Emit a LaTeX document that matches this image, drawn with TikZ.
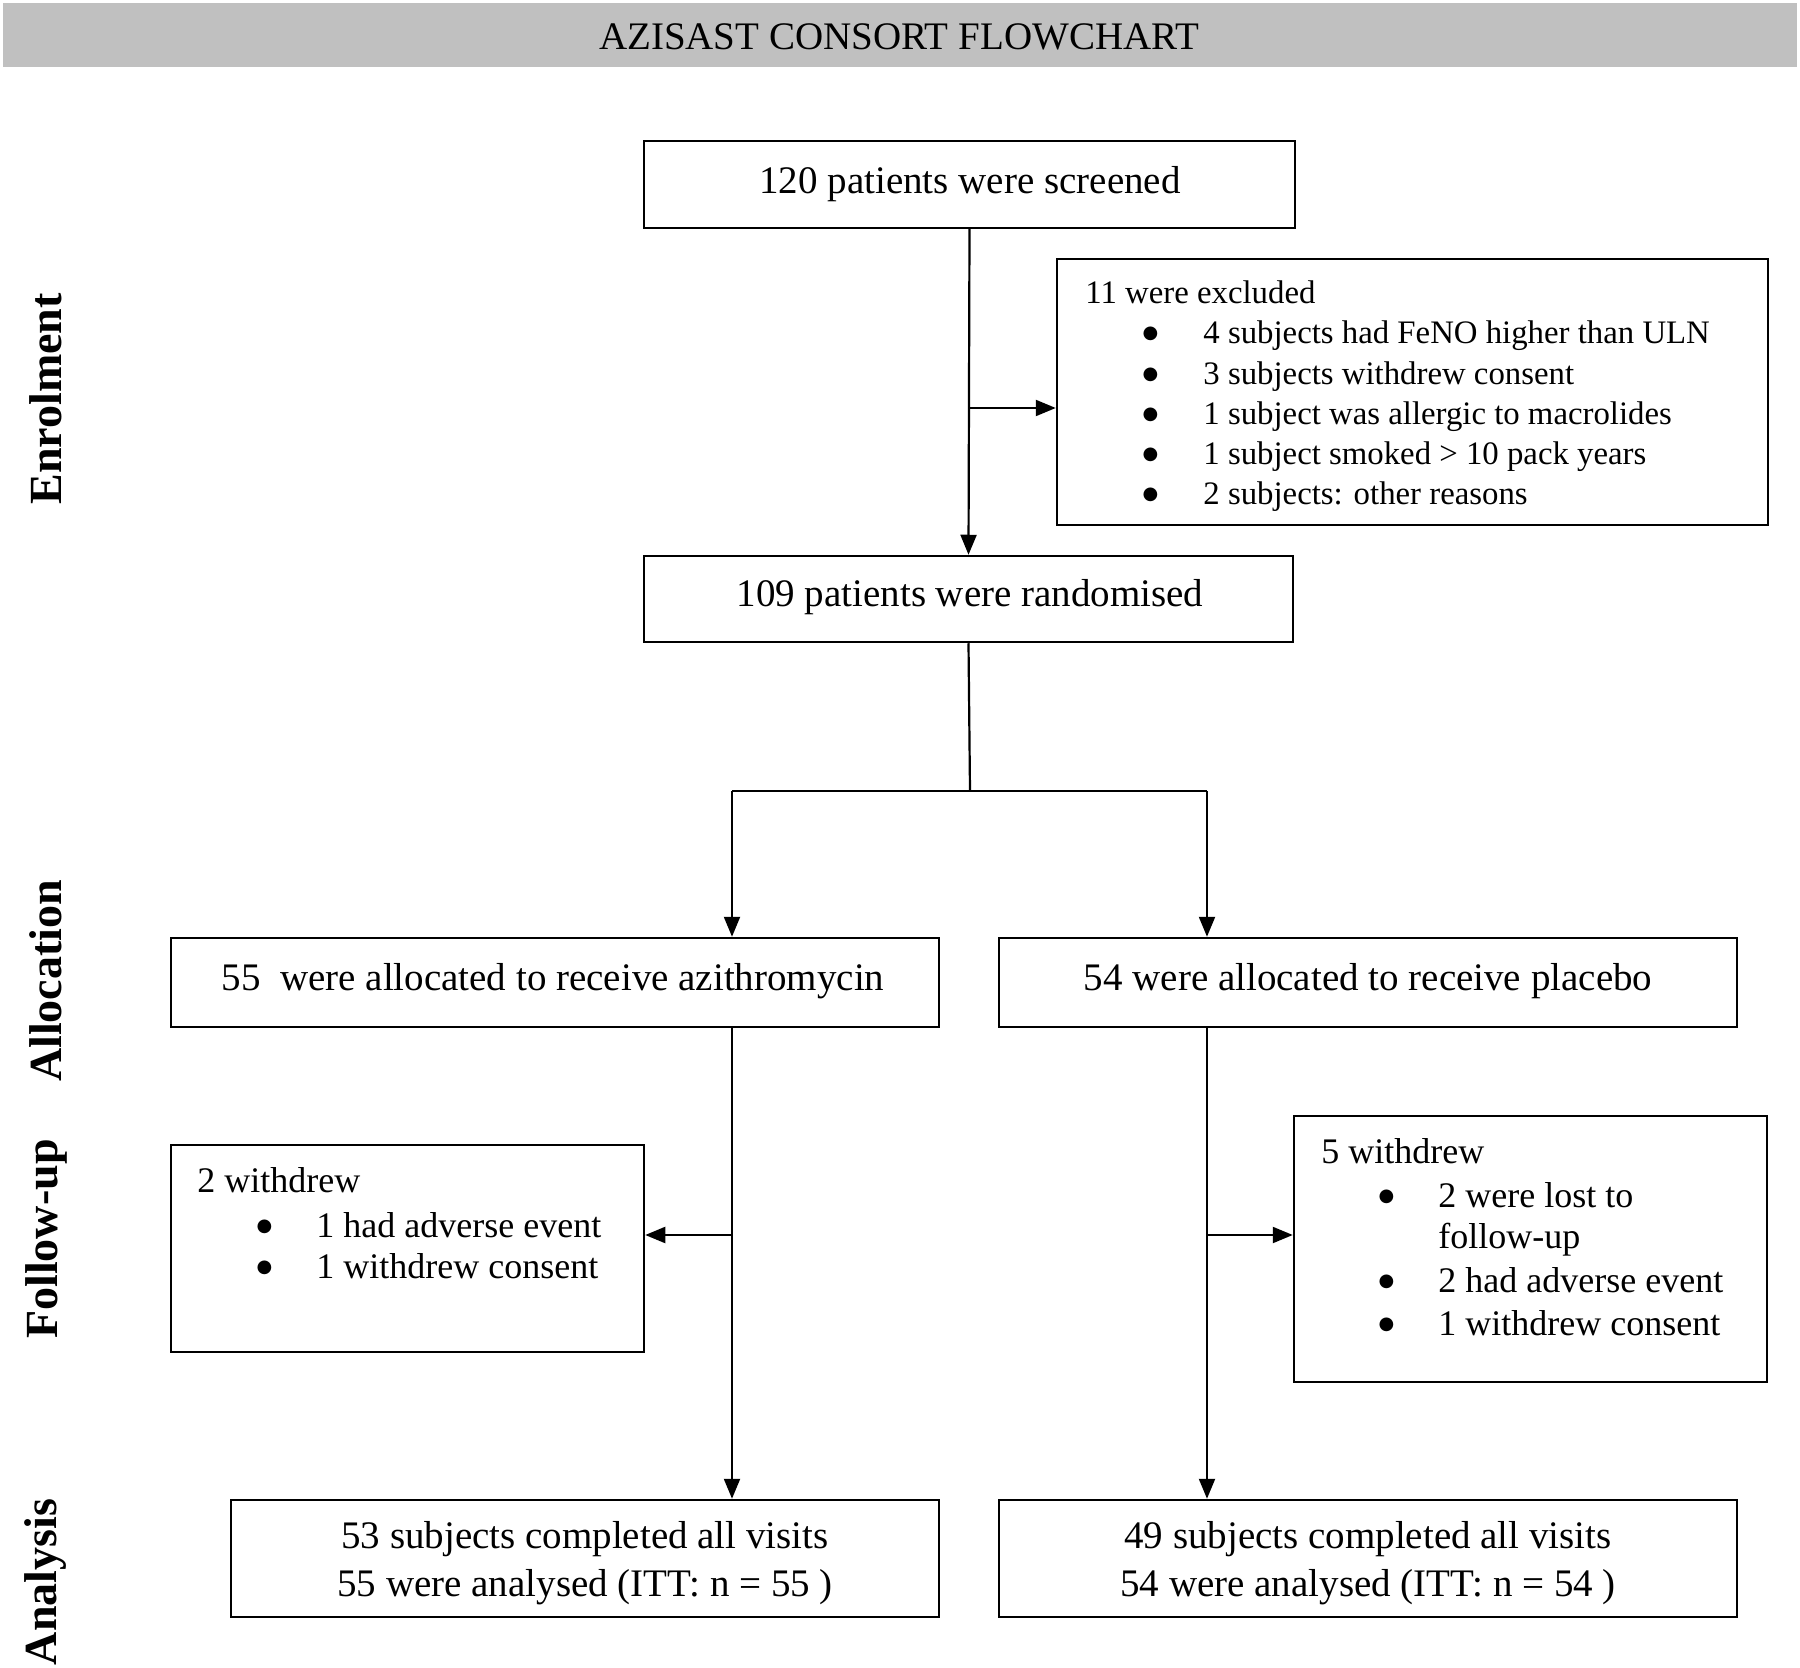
\documentclass[tikz,border=0pt]{standalone}
\usepackage{fontspec}
\setmainfont{Liberation Serif}
\newfontfamily\symfont{DejaVu Sans}
\usetikzlibrary{fit,arrows.meta}
\definecolor{headgray}{HTML}{C0C0C0}
\newcommand{\bulsmall}{\makebox[0pt]{\raisebox{2.6pt}{\symfont\fontsize{9}{9}\selectfont ●}}\hspace{26.5pt}}
\newcommand{\bulmid}{\makebox[0pt]{\raisebox{2.8pt}{\symfont\fontsize{9}{9}\selectfont ●}}\hspace{26pt}}
\begin{document}
\begin{tikzpicture}[x=0.5pt,y=-0.5pt,
  box/.style={draw=black,line width=1.25pt,inner sep=0pt},
  conn/.style={draw=black,line width=1.1pt},
  arr/.style={conn,-{Triangle[length=10pt,width=8pt]}},
  big/.style={font=\fontsize{19.5}{21.5}\selectfont,inner sep=0pt},
  small/.style={font=\fontsize{16.4}{19}\selectfont,inner sep=0pt,anchor=west,text height=0.7em,text depth=0.25em},
  mid/.style={font=\fontsize{18}{20}\selectfont,inner sep=0pt,anchor=west,text height=0.7em,text depth=0.25em},
  side/.style={font=\bfseries\fontsize{23}{25}\selectfont,rotate=90,inner sep=0pt}]
\useasboundingbox (0,0) rectangle (1800,1668);
% header
\node[fill=headgray,inner sep=0pt,fit={(3,3)(1797,67)}] (hdr) {};
\node[big,anchor=base] (title) at (899,50) {AZISAST CONSORT FLOWCHART};
% side labels
\node[side] (lenr) at (46,399) {Enrolment};
\node[side] (lall) at (46,981) {Allocation};
\node[side] (lfol) at (46,1239) {Follow-up};
\node[side] (lana) at (46,1582) {Analysis};
% boxes
\node[box,fit={(644,141)(1295,228)}] (scr) {};
\node[big] (scrt) at (970,184) {120 patients were screened};
\node[box,fit={(1057,259)(1768,525)}] (exc) {};
\node[box,fit={(644,556)(1293,642)}] (ran) {};
\node[big] (rant) at (970,597) {109 patients were randomised};
\node[box,fit={(171,938)(939,1027)}] (alA) {};
\node[big] (alAt) at (553,981) {55\ \ were allocated to receive azithromycin};
\node[box,fit={(999,938)(1737,1027)}] (alB) {};
\node[big] (alBt) at (1368,981) {54 were allocated to receive placebo};
\node[box,fit={(171,1145)(644,1352)}] (fuA) {};
\node[box,fit={(1294,1116)(1767,1382)}] (fuB) {};
\node[box,fit={(231,1500)(939,1617)}] (anA) {};
\node[big,align=center] (anAt) at (585,1563) {53 subjects completed all visits\\[2.2pt]55 were analysed (ITT: n = 55 )};
\node[box,fit={(999,1500)(1737,1617)}] (anB) {};
\node[big,align=center] (anBt) at (1368,1563) {49 subjects completed all visits\\[2.2pt]54 were analysed (ITT: n = 54 )};
% excluded list
\node[small] (e0) at (1085,299) {11 were excluded};
\node[small] (e1) at (1150,339) {\bulsmall 4 subjects had FeNO higher than ULN};
\node[small] (e2) at (1150,380) {\bulsmall 3 subjects withdrew consent};
\node[small] (e3) at (1150,420) {\bulsmall 1 subject was allergic to macrolides};
\node[small] (e4) at (1150,460) {\bulsmall 1 subject smoked > 10 pack years};
\node[small] (e5) at (1150,500) {\bulsmall 2 subjects: other reasons};
% follow-up left
\node[mid] (fa0) at (197,1188) {2 withdrew};
\node[mid] (fa1) at (264,1233) {\bulmid 1 had adverse event};
\node[mid] (fa2) at (264,1274) {\bulmid 1 withdrew consent};
% follow-up right
\node[mid] (fb0) at (1321,1159) {5 withdrew};
\node[mid] (fb1) at (1386,1203) {\bulmid 2 were lost to};
\node[mid] (fb1b) at (1438,1244) {follow-up};
\node[mid] (fb2) at (1386,1288) {\bulmid 2 had adverse event};
\node[mid] (fb3) at (1386,1331) {\bulmid 1 withdrew consent};
% junction coordinates
\coordinate (j1) at (970,408);
\coordinate (j2) at (970,791);
\coordinate (jl) at (732,791);
\coordinate (jr) at (1207,791);
\coordinate (jla) at (732,1235);
\coordinate (jrb) at (1207,1235);
% connectors
\draw[arr] (scr.south) -- (ran.north);
\draw[arr] (j1) -- (j1 -| exc.west);
\draw[conn] (ran.south) -- (j2);
\draw[conn] (jl) -- (jr);
\draw[arr] (jl) -- (jl |- alA.north);
\draw[arr] (jr) -- (jr |- alB.north);
\draw[arr] (jl |- alA.south) -- (jl |- anA.north);
\draw[arr] (jr |- alB.south) -- (jr |- anB.north);
\draw[arr] (jla) -- (jla -| fuA.east);
\draw[arr] (jrb) -- (jrb -| fuB.west);
\end{tikzpicture}
\end{document}
